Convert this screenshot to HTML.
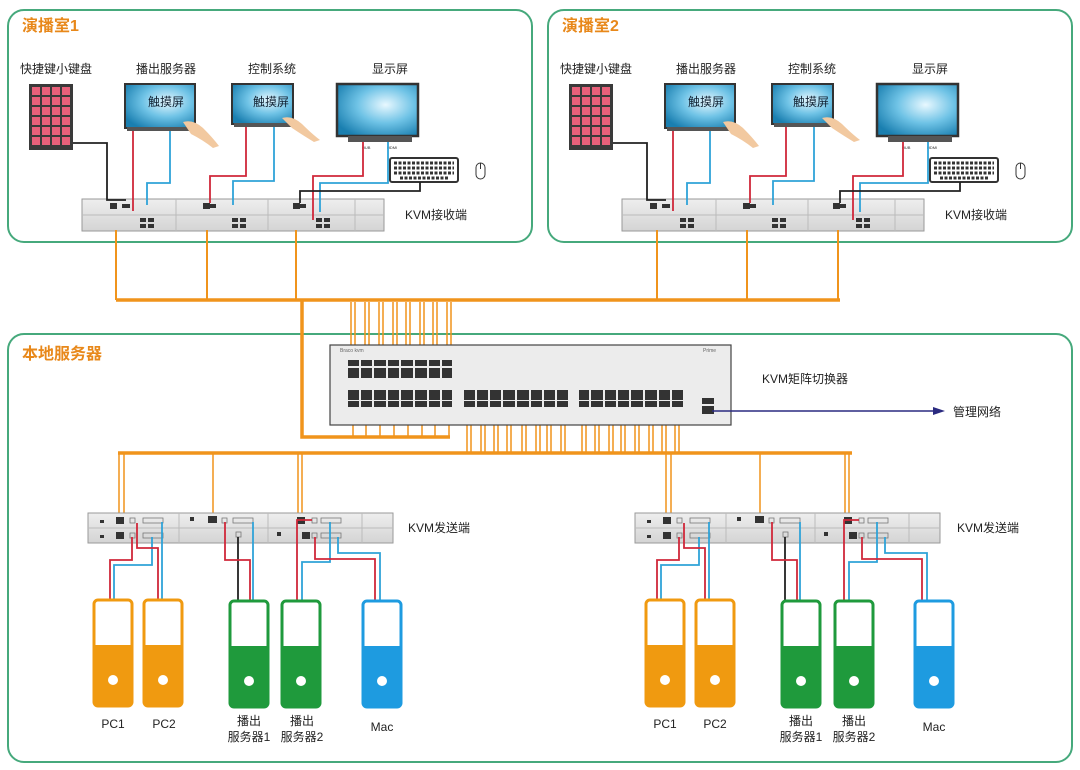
<!DOCTYPE html>
<html><head><meta charset="utf-8"><style>
html,body{margin:0;padding:0;background:#fff;}
svg{display:block;}
text{font-family:"Liberation Sans","Noto Sans CJK SC",sans-serif;}
</style></head><body>
<svg width="1080" height="770" viewBox="0 0 1080 770" xmlns="http://www.w3.org/2000/svg">
<defs>
<pattern id="kp" x="32" y="87" width="10" height="10" patternUnits="userSpaceOnUse"><rect width="8" height="8" fill="#e8607a"/></pattern>
<pattern id="kp2" x="572" y="87" width="10" height="10" patternUnits="userSpaceOnUse"><rect width="8" height="8" fill="#e8607a"/></pattern>
<radialGradient id="scr" cx="0.6" cy="0.4" r="0.7"><stop offset="0" stop-color="#e8f8ff"/><stop offset="0.5" stop-color="#6fc3e6"/><stop offset="1" stop-color="#1a7fb0"/></radialGradient>
<linearGradient id="dev" x1="0" y1="0" x2="0" y2="1"><stop offset="0" stop-color="#eeeeee"/><stop offset="1" stop-color="#d4d4d4"/></linearGradient>
</defs>

<!-- frames -->
<rect x="8" y="10" width="524" height="232" rx="16" fill="none" stroke="#46a97c" stroke-width="2"/>
<rect x="548" y="10" width="524" height="232" rx="16" fill="none" stroke="#46a97c" stroke-width="2"/>
<rect x="8" y="334" width="1064" height="428" rx="16" fill="none" stroke="#46a97c" stroke-width="2"/>
<text x="22" y="31" font-size="16" font-weight="bold" fill="#e8881a">演播室1</text>
<text x="562" y="31" font-size="16" font-weight="bold" fill="#e8881a">演播室2</text>
<text x="22" y="359" font-size="16" font-weight="bold" fill="#e8881a">本地服务器</text>

<!-- ROOM 1 -->
<g id="r1">
<g font-size="12" fill="#222" text-anchor="middle">
<text x="56" y="73">快捷键小键盘</text><text x="166" y="73">播出服务器</text><text x="272" y="73">控制系统</text><text x="390" y="73">显示屏</text>
</g>
<rect x="29" y="84" width="44" height="66" fill="#3a3a3a"/>
<rect x="32" y="87" width="38" height="60" fill="url(#kp)"/>
<rect x="125" y="84" width="70" height="44" fill="url(#scr)" stroke="#333" stroke-width="2"/>
<rect x="127" y="127" width="66" height="4" fill="#555"/>
<text x="166" y="106" font-size="12" fill="#123" text-anchor="middle">触摸屏</text>
<path d="M183 122 q10 -3 20 6 q10 10 16 18 l-6 2 q-10 -8 -22 -14z" fill="#f2c9a0"/>
<rect x="232" y="84" width="61" height="40" fill="url(#scr)" stroke="#333" stroke-width="2"/>
<rect x="234" y="123" width="57" height="4" fill="#555"/>
<text x="271" y="106" font-size="12" fill="#123" text-anchor="middle">触摸屏</text>
<path d="M282 118 q10 -3 20 6 q10 10 18 16 l-6 2 q-10 -6 -22 -14z" fill="#f2c9a0"/>
<rect x="337" y="84" width="81" height="52" fill="url(#scr)" stroke="#333" stroke-width="2.5"/>
<rect x="348" y="136" width="64" height="6" fill="#555"/>
<text x="362" y="149" font-size="4" fill="#333">HUB</text><text x="387" y="149" font-size="4" fill="#333">HDMI</text>
<rect x="390" y="158" width="68" height="24" rx="2" fill="#fff" stroke="#333" stroke-width="2"/>
<path d="M394 163h60M394 168h60M394 173h60M400 178h48" stroke="#333" stroke-width="3" stroke-dasharray="3 1.5"/>
<rect x="476" y="163" width="9" height="16" rx="4.5" fill="#fff" stroke="#333" stroke-width="1"/>
<path d="M480.5 163v6" stroke="#333"/>
<rect x="82" y="199" width="302" height="32" fill="url(#dev)" stroke="#999" stroke-width="1"/>
<path d="M82 215h302M176 199v32M268 199v32M355 199v32" stroke="#bbb"/>
<g fill="#333"><rect x="110" y="203" width="7" height="6"/><rect x="203" y="203" width="7" height="6"/><rect x="293" y="203" width="7" height="6"/>
<rect x="140" y="218" width="6" height="4"/><rect x="148" y="218" width="6" height="4"/><rect x="140" y="224" width="6" height="4"/><rect x="148" y="224" width="6" height="4"/>
<rect x="232" y="218" width="6" height="4"/><rect x="240" y="218" width="6" height="4"/><rect x="232" y="224" width="6" height="4"/><rect x="240" y="224" width="6" height="4"/>
<rect x="316" y="218" width="6" height="4"/><rect x="324" y="218" width="6" height="4"/><rect x="316" y="224" width="6" height="4"/><rect x="324" y="224" width="6" height="4"/>
<rect x="122" y="204" width="8" height="4"/><rect x="208" y="204" width="8" height="4"/><rect x="298" y="204" width="8" height="4"/></g>
<text x="405" y="219" font-size="12" fill="#222">KVM接收端</text>
<g fill="none" stroke-width="1.8">
<polyline points="73,143 107,143 107,200 126,200" stroke="#222"/>
<polyline points="133,131 133,211" stroke="#d0283a"/>
<polyline points="170,131 170,183 147,183 147,205" stroke="#2fa3d8"/>
<polyline points="246,127 246,176 210,176 210,203" stroke="#d0283a"/>
<polyline points="274,127 274,181 233,181 233,205" stroke="#2fa3d8"/>
<polyline points="363,142 363,176 313,176 313,220" stroke="#d0283a"/>
<polyline points="388,142 388,183 320,183 320,212" stroke="#2fa3d8"/>
<polyline points="420,182 420,191 300,191 300,203" stroke="#222"/>
</g>
</g>

<!-- ROOM 2 -->
<g transform="translate(540,0)">
<g font-size="12" fill="#222" text-anchor="middle">
<text x="56" y="73">快捷键小键盘</text><text x="166" y="73">播出服务器</text><text x="272" y="73">控制系统</text><text x="390" y="73">显示屏</text>
</g>
<rect x="29" y="84" width="44" height="66" fill="#3a3a3a"/>
<rect x="32" y="87" width="38" height="60" fill="url(#kp2)" transform="translate(0,0)"/>
<rect x="125" y="84" width="70" height="44" fill="url(#scr)" stroke="#333" stroke-width="2"/>
<rect x="127" y="127" width="66" height="4" fill="#555"/>
<text x="166" y="106" font-size="12" fill="#123" text-anchor="middle">触摸屏</text>
<path d="M183 122 q10 -3 20 6 q10 10 16 18 l-6 2 q-10 -8 -22 -14z" fill="#f2c9a0"/>
<rect x="232" y="84" width="61" height="40" fill="url(#scr)" stroke="#333" stroke-width="2"/>
<rect x="234" y="123" width="57" height="4" fill="#555"/>
<text x="271" y="106" font-size="12" fill="#123" text-anchor="middle">触摸屏</text>
<path d="M282 118 q10 -3 20 6 q10 10 18 16 l-6 2 q-10 -6 -22 -14z" fill="#f2c9a0"/>
<rect x="337" y="84" width="81" height="52" fill="url(#scr)" stroke="#333" stroke-width="2.5"/>
<rect x="348" y="136" width="64" height="6" fill="#555"/>
<text x="362" y="149" font-size="4" fill="#333">HUB</text><text x="387" y="149" font-size="4" fill="#333">HDMI</text>
<rect x="390" y="158" width="68" height="24" rx="2" fill="#fff" stroke="#333" stroke-width="2"/>
<path d="M394 163h60M394 168h60M394 173h60M400 178h48" stroke="#333" stroke-width="3" stroke-dasharray="3 1.5"/>
<rect x="476" y="163" width="9" height="16" rx="4.5" fill="#fff" stroke="#333" stroke-width="1"/>
<path d="M480.5 163v6" stroke="#333"/>
<rect x="82" y="199" width="302" height="32" fill="url(#dev)" stroke="#999" stroke-width="1"/>
<path d="M82 215h302M176 199v32M268 199v32M355 199v32" stroke="#bbb"/>
<g fill="#333"><rect x="110" y="203" width="7" height="6"/><rect x="203" y="203" width="7" height="6"/><rect x="293" y="203" width="7" height="6"/>
<rect x="140" y="218" width="6" height="4"/><rect x="148" y="218" width="6" height="4"/><rect x="140" y="224" width="6" height="4"/><rect x="148" y="224" width="6" height="4"/>
<rect x="232" y="218" width="6" height="4"/><rect x="240" y="218" width="6" height="4"/><rect x="232" y="224" width="6" height="4"/><rect x="240" y="224" width="6" height="4"/>
<rect x="316" y="218" width="6" height="4"/><rect x="324" y="218" width="6" height="4"/><rect x="316" y="224" width="6" height="4"/><rect x="324" y="224" width="6" height="4"/>
<rect x="122" y="204" width="8" height="4"/><rect x="208" y="204" width="8" height="4"/><rect x="298" y="204" width="8" height="4"/></g>
<text x="405" y="219" font-size="12" fill="#222">KVM接收端</text>
<g fill="none" stroke-width="1.8">
<polyline points="73,143 107,143 107,200 126,200" stroke="#222"/>
<polyline points="133,131 133,211" stroke="#d0283a"/>
<polyline points="170,131 170,183 147,183 147,205" stroke="#2fa3d8"/>
<polyline points="246,127 246,176 210,176 210,203" stroke="#d0283a"/>
<polyline points="274,127 274,181 233,181 233,205" stroke="#2fa3d8"/>
<polyline points="363,142 363,176 313,176 313,220" stroke="#d0283a"/>
<polyline points="388,142 388,183 320,183 320,212" stroke="#2fa3d8"/>
<polyline points="420,182 420,191 300,191 300,203" stroke="#222"/>
</g>
</g>

<!-- orange network -->
<g fill="none" stroke="#f0941c">
<path d="M116 230V300M207 230V300M296 230V300M657 230V300M747 230V300M838 230V300" stroke-width="2"/>
<path d="M116 300H840" stroke-width="3.5"/>
<path d="M302 300V437H450" stroke-width="3.5"/>
<g stroke-width="1.5">
<path d="M351 302V372M355 302V372M365 302V372M369 302V372M379 302V372M383 302V372M393 302V372M397 302V372M406 302V372M410 302V372M420 302V372M424 302V372M433 302V372M437 302V372M447 302V372M451 302V372"/>
<path d="M353 404V436M366 404V436M380 404V436M394 404V436M408 404V436M422 404V436M435 404V436M449 404V436"/>
<path d="M467 404V453M471 404V453M481 404V453M485 404V453M494 404V453M498 404V453M507 404V453M511 404V453M522 404V453M526 404V453M536 404V453M540 404V453M547 404V453M551 404V453M561 404V453M565 404V453"/>
<path d="M582 404V453M586 404V453M595 404V453M599 404V453M609 404V453M613 404V453M621 404V453M625 404V453M635 404V453M639 404V453M649 404V453M653 404V453M662 404V453M666 404V453M675 404V453M679 404V453"/>
</g>
<path d="M118 453H852" stroke-width="3.5"/>
<g stroke-width="1.5">
<path d="M119 453V522M124 453V540M213 453V520M298 453V520M302 453V540"/>
<path d="M666 453V522M671 453V540M760 453V520M845 453V520M849 453V540"/>
</g>
</g>

<!-- switch -->
<rect x="330" y="345" width="401" height="80" fill="#ececec" stroke="#444" stroke-width="1.2"/>
<text x="340" y="352" font-size="5" fill="#666">Braco kvm</text>
<text x="703" y="352" font-size="5" fill="#666">Prime</text>
<g fill="#333">
<rect x="348" y="360" width="104" height="6"/><rect x="348" y="368" width="104" height="10"/>
<rect x="348" y="390" width="104" height="10"/><rect x="348" y="401" width="104" height="6"/>
<rect x="464" y="390" width="104" height="10"/><rect x="464" y="401" width="104" height="6"/>
<rect x="579" y="390" width="104" height="10"/><rect x="579" y="401" width="104" height="6"/>
<rect x="702" y="398" width="12" height="6"/><rect x="702" y="406" width="12" height="8"/>
</g>
<path d="M360 360V378M373 360V378M387 360V378M400 360V378M414 360V378M428 360V378M441 360V378M476 390V407M489 390V407M502 390V407M516 390V407M530 390V407M543 390V407M556 390V407M590 390V407M604 390V407M617 390V407M630 390V407M644 390V407M658 390V407M671 390V407M360 390V407M373 390V407M387 390V407M400 390V407M414 390V407M428 390V407M441 390V407" stroke="#ececec" stroke-width="2"/>
<text x="762" y="383" font-size="12" fill="#222">KVM矩阵切换器</text>
<path d="M712 411H934" stroke="#2a2a80" stroke-width="1.5"/>
<path d="M945 411l-12 -4v8z" fill="#2a2a80"/>
<text x="953" y="416" font-size="12" fill="#222">管理网络</text>

<!-- sender left -->
<g id="sl">
<rect x="88" y="513" width="305" height="30" fill="url(#dev)" stroke="#999"/>
<path d="M88 528h305M179 513v30M268 513v30M362 513v30" stroke="#bbb"/>
<g fill="#333"><rect x="116" y="517" width="8" height="7"/><rect x="116" y="532" width="8" height="7"/><rect x="208" y="516" width="9" height="7"/><rect x="297" y="517" width="8" height="7"/><rect x="302" y="532" width="8" height="7"/>
<rect x="100" y="520" width="4" height="3"/><rect x="100" y="535" width="4" height="3"/><rect x="190" y="517" width="4" height="4"/><rect x="277" y="532" width="4" height="4"/></g>
<g fill="none" stroke="#777" stroke-width="0.8"><rect x="143" y="518" width="20" height="5"/><rect x="143" y="533" width="20" height="5"/><rect x="233" y="518" width="20" height="5"/><rect x="321" y="518" width="20" height="5"/><rect x="321" y="533" width="20" height="5"/>
<rect x="130" y="518" width="5" height="5"/><rect x="130" y="533" width="5" height="5"/><rect x="222" y="518" width="5" height="5"/><rect x="236" y="532" width="5" height="5"/><rect x="312" y="518" width="5" height="5"/><rect x="312" y="533" width="5" height="5"/></g>
<text x="408" y="532" font-size="12" fill="#222">KVM发送端</text>
<g fill="none" stroke-width="1.8">
<polyline points="110,600 110,560 132,560 132,537" stroke="#d0283a"/>
<polyline points="114,600 114,565 152,565 152,537" stroke="#2fa3d8"/>
<polyline points="158,600 158,548 137,548 137,523" stroke="#d0283a"/>
<polyline points="162,600 162,522" stroke="#2fa3d8"/>
<polyline points="238,600 238,537" stroke="#222"/>
<polyline points="250,600 250,560 225,560 225,522" stroke="#d0283a"/>
<polyline points="253,600 253,522" stroke="#2fa3d8"/>
<polyline points="297,600 297,520 312,520" stroke="#d0283a"/>
<polyline points="302,600 302,562 330,562 330,522" stroke="#2fa3d8"/>
<polyline points="375,600 375,559 315,559 315,537" stroke="#d0283a"/>
<polyline points="380,600 380,553 338,553 338,537" stroke="#2fa3d8"/>
</g>
<!-- towers -->
<g stroke-width="3">
<rect x="94" y="600" width="38" height="106" rx="4" fill="#fff" stroke="#f09a10"/><path d="M94 645h38v57q0 4 -4 4h-30q-4 0 -4 -4z" fill="#f09a10"/><circle cx="113" cy="680" r="5" fill="#fff"/>
<rect x="144" y="600" width="38" height="106" rx="4" fill="#fff" stroke="#f09a10"/><path d="M144 645h38v57q0 4 -4 4h-30q-4 0 -4 -4z" fill="#f09a10"/><circle cx="163" cy="680" r="5" fill="#fff"/>
<rect x="230" y="601" width="38" height="106" rx="4" fill="#fff" stroke="#1f9a3c"/><path d="M230 646h38v57q0 4 -4 4h-30q-4 0 -4 -4z" fill="#1f9a3c"/><circle cx="249" cy="681" r="5" fill="#fff"/>
<rect x="282" y="601" width="38" height="106" rx="4" fill="#fff" stroke="#1f9a3c"/><path d="M282 646h38v57q0 4 -4 4h-30q-4 0 -4 -4z" fill="#1f9a3c"/><circle cx="301" cy="681" r="5" fill="#fff"/>
<rect x="363" y="601" width="38" height="106" rx="4" fill="#fff" stroke="#1e9be0"/><path d="M363 646h38v57q0 4 -4 4h-30q-4 0 -4 -4z" fill="#1e9be0"/><circle cx="382" cy="681" r="5" fill="#fff"/>
</g>
<g font-size="12" fill="#222" text-anchor="middle">
<text x="113" y="728">PC1</text><text x="164" y="728">PC2</text>
<text x="249" y="725">播出</text><text x="249" y="741">服务器1</text>
<text x="302" y="725">播出</text><text x="302" y="741">服务器2</text>
<text x="382" y="731">Mac</text>
</g>
</g>

<!-- sender right -->
<g transform="translate(547,0)">
<rect x="88" y="513" width="305" height="30" fill="url(#dev)" stroke="#999"/>
<path d="M88 528h305M179 513v30M268 513v30M362 513v30" stroke="#bbb"/>
<g fill="#333"><rect x="116" y="517" width="8" height="7"/><rect x="116" y="532" width="8" height="7"/><rect x="208" y="516" width="9" height="7"/><rect x="297" y="517" width="8" height="7"/><rect x="302" y="532" width="8" height="7"/>
<rect x="100" y="520" width="4" height="3"/><rect x="100" y="535" width="4" height="3"/><rect x="190" y="517" width="4" height="4"/><rect x="277" y="532" width="4" height="4"/></g>
<g fill="none" stroke="#777" stroke-width="0.8"><rect x="143" y="518" width="20" height="5"/><rect x="143" y="533" width="20" height="5"/><rect x="233" y="518" width="20" height="5"/><rect x="321" y="518" width="20" height="5"/><rect x="321" y="533" width="20" height="5"/>
<rect x="130" y="518" width="5" height="5"/><rect x="130" y="533" width="5" height="5"/><rect x="222" y="518" width="5" height="5"/><rect x="236" y="532" width="5" height="5"/><rect x="312" y="518" width="5" height="5"/><rect x="312" y="533" width="5" height="5"/></g>
<text x="410" y="532" font-size="12" fill="#222">KVM发送端</text>
<g fill="none" stroke-width="1.8">
<polyline points="110,600 110,560 132,560 132,537" stroke="#d0283a"/>
<polyline points="114,600 114,565 152,565 152,537" stroke="#2fa3d8"/>
<polyline points="158,600 158,548 137,548 137,523" stroke="#d0283a"/>
<polyline points="162,600 162,522" stroke="#2fa3d8"/>
<polyline points="238,600 238,537" stroke="#222"/>
<polyline points="250,600 250,560 225,560 225,522" stroke="#d0283a"/>
<polyline points="253,600 253,522" stroke="#2fa3d8"/>
<polyline points="297,600 297,520 312,520" stroke="#d0283a"/>
<polyline points="302,600 302,562 330,562 330,522" stroke="#2fa3d8"/>
<polyline points="375,600 375,559 315,559 315,537" stroke="#d0283a"/>
<polyline points="380,600 380,553 338,553 338,537" stroke="#2fa3d8"/>
</g>
<g stroke-width="3">
<rect x="99" y="600" width="38" height="106" rx="4" fill="#fff" stroke="#f09a10"/><path d="M99 645h38v57q0 4 -4 4h-30q-4 0 -4 -4z" fill="#f09a10"/><circle cx="118" cy="680" r="5" fill="#fff"/>
<rect x="149" y="600" width="38" height="106" rx="4" fill="#fff" stroke="#f09a10"/><path d="M149 645h38v57q0 4 -4 4h-30q-4 0 -4 -4z" fill="#f09a10"/><circle cx="168" cy="680" r="5" fill="#fff"/>
<rect x="235" y="601" width="38" height="106" rx="4" fill="#fff" stroke="#1f9a3c"/><path d="M235 646h38v57q0 4 -4 4h-30q-4 0 -4 -4z" fill="#1f9a3c"/><circle cx="254" cy="681" r="5" fill="#fff"/>
<rect x="288" y="601" width="38" height="106" rx="4" fill="#fff" stroke="#1f9a3c"/><path d="M288 646h38v57q0 4 -4 4h-30q-4 0 -4 -4z" fill="#1f9a3c"/><circle cx="307" cy="681" r="5" fill="#fff"/>
<rect x="368" y="601" width="38" height="106" rx="4" fill="#fff" stroke="#1e9be0"/><path d="M368 646h38v57q0 4 -4 4h-30q-4 0 -4 -4z" fill="#1e9be0"/><circle cx="387" cy="681" r="5" fill="#fff"/>
</g>
<g font-size="12" fill="#222" text-anchor="middle">
<text x="118" y="728">PC1</text><text x="168" y="728">PC2</text>
<text x="254" y="725">播出</text><text x="254" y="741">服务器1</text>
<text x="307" y="725">播出</text><text x="307" y="741">服务器2</text>
<text x="387" y="731">Mac</text>
</g>
</g>
</svg>
</body></html>
